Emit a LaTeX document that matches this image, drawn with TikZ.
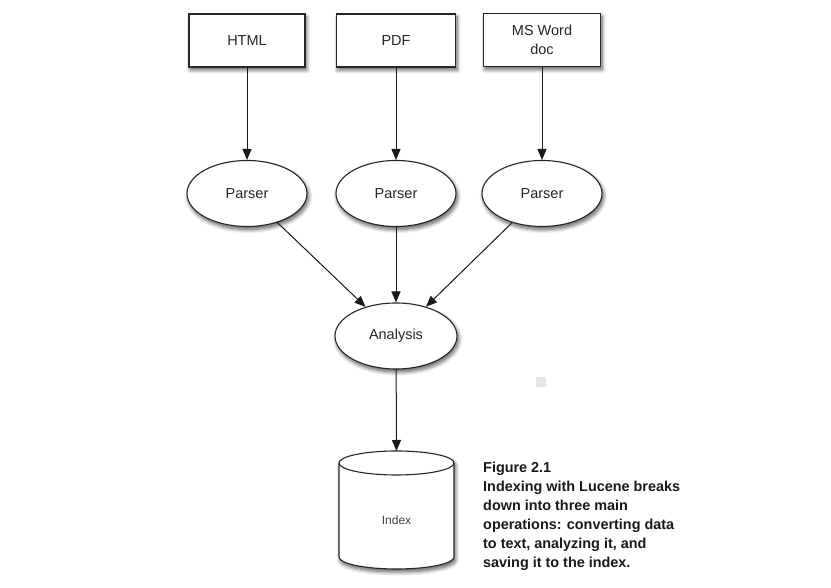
\documentclass[tikz,border=0pt]{standalone}
\usepackage{fontspec}
\setmainfont{Liberation Sans}
\usetikzlibrary{arrows.meta,shapes.geometric,shadows.blur}
\begin{document}
\begin{tikzpicture}[x=1pt,y=1pt,
  lc/.style={draw=black!85, line width=1.1pt},
  sh/.style={blur shadow={shadow xshift=1.5pt, shadow yshift=-3pt, shadow blur radius=4pt, shadow blur steps=8, shadow opacity=65}},
  srcbox/.style={lc, fill=white, sh, rectangle, minimum width=116pt, minimum height=53pt, inner sep=0pt,
    font=\fontsize{14.5}{19}\selectfont, text=black!85, align=center},
  ell/.style={lc, fill=white, sh, ellipse, minimum width=120pt, minimum height=66pt, inner sep=0pt,
    font=\fontsize{14.5}{17}\selectfont, text=black!85},
  arr/.style={draw=black!90, line width=1pt, -{Triangle[length=11pt,width=9pt]}},
]
\useasboundingbox (0,0) rectangle (831,588);

% source boxes
\node[srcbox] (h) at (247,547.5) {HTML};
\node[srcbox, minimum width=119pt] (p) at (396,547.5) {PDF};
\node[srcbox, minimum width=117pt] (w) at (542,548) {MS Word\\doc};

% parsers
\node[ell] (p1) at (247,394.5) {Parser};
\node[ell] (p2) at (396,394.5) {Parser};
\node[ell] (p3) at (542,394.5) {Parser};

% analysis
\node[ell, minimum width=122pt] (an) at (396,252) {Analysis};

% index cylinder
\path[lc, fill=white, sh] (339,125) -- (339,31)
  arc[start angle=180, end angle=360, x radius=57.5pt, y radius=12pt]
  -- (454,125)
  arc[start angle=0, end angle=180, x radius=57.5pt, y radius=12pt] -- cycle;
\draw[lc] (339,125) arc[start angle=180, end angle=360, x radius=57.5pt, y radius=12pt];
\coordinate (idx) at (396.5,137);
\node[font=\fontsize{12}{14}\selectfont, text=black!75] (idxl) at (396.5,68) {Index};

% arrows
\draw[arr] (h) -- (p1);
\draw[arr] (p) -- (p2);
\draw[arr] (w) -- (p3);
\draw[arr] (p1) -- (an);
\draw[arr] (p2) -- (an);
\draw[arr] (p3) -- (an);
\draw[arr] (an) -- (idx);

% stray grey square
\node[fill=black!10, minimum size=10pt, inner sep=0pt] (sq) at (541,206) {};

% caption
\node[anchor=north west, inner sep=0pt, align=left, text=black!90,
  font=\fontsize{14.4}{19}\selectfont\bfseries] (cap) at (483,126)
  {Figure 2.1\\Indexing with Lucene breaks\\down into three main\\operations: converting data\\to text, analyzing it, and\\saving it to the index.};
\end{tikzpicture}
\end{document}
